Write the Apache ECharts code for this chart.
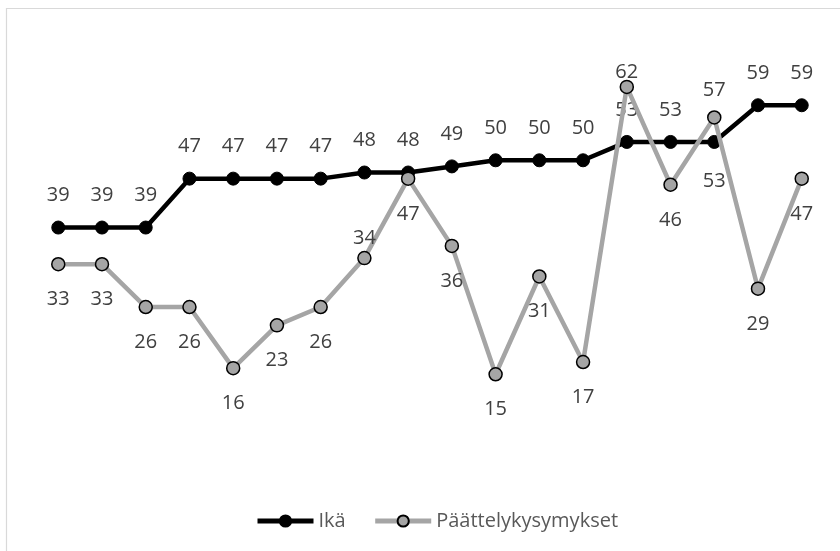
<!DOCTYPE html>
<html>
<head>
<meta charset="utf-8">
<script src="https://cdn.jsdelivr.net/npm/echarts@6/dist/echarts.min.js"></script>
<style>
  html, body { margin: 0; padding: 0; background: #fff; }
  #chart { width: 840px; height: 551px; }
</style>
</head>
<body>
<div id="chart"></div>
<script>
// Respondent index along the x axis
const categories = ['1','2','3','4','5','6','7','8','9','10','11','12','13','14','15','16','17','18'];
// Age of each respondent
const ika = [39, 39, 39, 47, 47, 47, 47, 48, 48, 49, 50, 50, 50, 53, 53, 53, 59, 59];
// Reasoning-question score
const paattely = [33, 33, 26, 26, 16, 23, 26, 34, 47, 36, 15, 31, 17, 62, 46, 57, 29, 47];

const labelColor = '#404040';
const labelFont = '"Open Sans", Lato, sans-serif';
const labelSize = 20;

// Age labels sit above the points, except one that would collide with the score line
const ikaData = ika.map((v, i) => {
  if (i === 15) {
    return { value: v, label: { position: 'bottom', distance: 22 } };
  }
  return v;
});

// Score labels sit below the points; a few peaks get theirs above
const aboveDist = { 7: 3, 13: -3, 15: 10 };
const paattelyData = paattely.map((v, i) => {
  if (i in aboveDist) {
    return { value: v, label: { position: 'top', distance: aboveDist[i] } };
  }
  return v;
});

const chart = echarts.init(document.getElementById('chart'), null, { renderer: 'canvas' });
chart.setOption({
  backgroundColor: '#ffffff',
  animation: false,
  graphic: [{
    type: 'rect',
    shape: { x: 6.5, y: 8.5, width: 900, height: 900 },
    style: { fill: 'none', stroke: '#d9d9d9', lineWidth: 1.2 },
    silent: true
  }],
  grid: { left: 36.4, right: 16.4, top: 38, bottom: 85 },
  xAxis: {
    type: 'category',
    data: categories,
    boundaryGap: true,
    show: false
  },
  yAxis: {
    type: 'value',
    min: 0,
    max: 70,
    show: false
  },
  legend: {
    left: 250,
    top: 506,
    itemWidth: 56,
    itemHeight: 14,
    itemGap: 27,
    lineStyle: { width: 5 },
    textStyle: { color: '#595959', fontSize: labelSize, fontFamily: labelFont },
    data: ['Ikä', 'Päättelykysymykset']
  },
  series: [
    {
      name: 'Ikä',
      type: 'line',
      data: ikaData,
      symbol: 'circle',
      symbolSize: 13,
      z: 3,
      lineStyle: { color: '#000000', width: 4.5 },
      itemStyle: { color: '#000000', borderColor: '#000000', borderWidth: 1 },
      label: {
        show: true,
        position: 'top',
        distance: 15,
        color: labelColor,
        fontSize: labelSize,
        fontFamily: labelFont
      }
    },
    {
      name: 'Päättelykysymykset',
      type: 'line',
      data: paattelyData,
      symbol: 'circle',
      symbolSize: 13,
      z: 4,
      lineStyle: { color: '#a5a5a5', width: 4.5 },
      itemStyle: { color: '#a5a5a5', borderColor: '#000000', borderWidth: 1.5 },
      label: {
        show: true,
        position: 'bottom',
        distance: 18,
        color: labelColor,
        fontSize: labelSize,
        fontFamily: labelFont
      }
    }
  ]
});
</script>
</body>
</html>
